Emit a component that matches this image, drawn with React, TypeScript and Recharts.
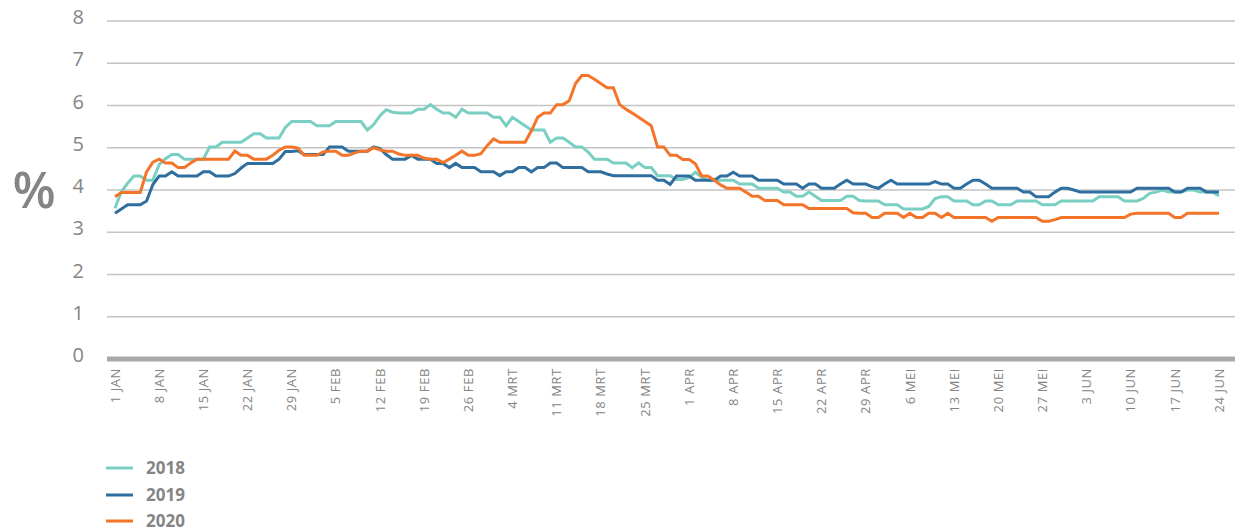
import React from 'react';
import { LineChart, Line, XAxis, YAxis, CartesianGrid, Legend, Label } from 'recharts';

// Month names (Dutch) and day counts for 2020 (leap year) — used for the category labels
const MONTHS = ['JAN', 'FEB', 'MRT', 'APR', 'MEI', 'JUN'];
const MONTH_DAYS = [31, 29, 31, 30, 31, 30];
const Y_TICKS = [0, 1, 2, 3, 4, 5, 6, 7, 8];
const SERIES_NAMES = ['2018', '2019', '2020'];

const s2018 = [
  3.57, 3.96, 4.16, 4.33, 4.33, 4.23, 4.23, 4.6, 4.74, 4.84,
  4.84, 4.73, 4.73, 4.73, 4.73, 5.02, 5.02, 5.13, 5.13, 5.13,
  5.13, 5.23, 5.33, 5.33, 5.23, 5.23, 5.23, 5.48, 5.62, 5.62,
  5.62, 5.62, 5.52, 5.52, 5.52, 5.62, 5.62, 5.62, 5.62, 5.62,
  5.42, 5.55, 5.76, 5.9, 5.84, 5.82, 5.82, 5.82, 5.91, 5.91,
  6.02, 5.91, 5.82, 5.82, 5.72, 5.91, 5.82, 5.82, 5.82, 5.82,
  5.72, 5.72, 5.52, 5.72, 5.62, 5.52, 5.42, 5.42, 5.42, 5.13,
  5.23, 5.23, 5.13, 5.02, 5.02, 4.9, 4.73, 4.73, 4.73, 4.64,
  4.64, 4.64, 4.53, 4.64, 4.53, 4.53, 4.34, 4.34, 4.34, 4.25,
  4.25, 4.3, 4.42, 4.3, 4.23, 4.23, 4.23, 4.23, 4.23, 4.14,
  4.14, 4.14, 4.04, 4.04, 4.04, 4.04, 3.95, 3.95, 3.85, 3.85,
  3.95, 3.85, 3.75, 3.75, 3.75, 3.75, 3.85, 3.85, 3.75, 3.74,
  3.74, 3.74, 3.65, 3.65, 3.65, 3.55, 3.55, 3.55, 3.55, 3.61,
  3.8, 3.84, 3.84, 3.74, 3.74, 3.74, 3.65, 3.65, 3.74, 3.74,
  3.65, 3.65, 3.65, 3.74, 3.74, 3.74, 3.74, 3.65, 3.65, 3.65,
  3.74, 3.74, 3.74, 3.74, 3.74, 3.74, 3.84, 3.84, 3.84, 3.84,
  3.74, 3.74, 3.74, 3.8, 3.92, 3.95, 4.0, 3.95, 3.95, 3.95,
  4.0, 4.0, 3.95, 3.95, 3.95, 3.86,
];

const s2019 = [
  3.45, 3.55, 3.65, 3.65, 3.65, 3.74, 4.13, 4.33, 4.33, 4.43,
  4.33, 4.33, 4.33, 4.33, 4.43, 4.43, 4.33, 4.33, 4.33, 4.39,
  4.52, 4.63, 4.63, 4.63, 4.63, 4.63, 4.73, 4.91, 4.91, 4.93,
  4.84, 4.84, 4.84, 4.84, 5.02, 5.02, 5.02, 4.92, 4.92, 4.92,
  4.92, 5.02, 4.98, 4.84, 4.73, 4.73, 4.73, 4.82, 4.73, 4.73,
  4.73, 4.63, 4.63, 4.53, 4.63, 4.53, 4.53, 4.53, 4.43, 4.43,
  4.43, 4.34, 4.43, 4.43, 4.53, 4.53, 4.43, 4.53, 4.53, 4.64,
  4.64, 4.53, 4.53, 4.53, 4.53, 4.43, 4.43, 4.43, 4.38, 4.34,
  4.34, 4.34, 4.34, 4.34, 4.34, 4.34, 4.23, 4.23, 4.13, 4.33,
  4.33, 4.33, 4.23, 4.23, 4.23, 4.23, 4.33, 4.33, 4.42, 4.33,
  4.33, 4.33, 4.23, 4.23, 4.23, 4.23, 4.14, 4.14, 4.14, 4.04,
  4.14, 4.14, 4.04, 4.04, 4.04, 4.14, 4.23, 4.14, 4.14, 4.14,
  4.08, 4.04, 4.14, 4.23, 4.14, 4.14, 4.14, 4.14, 4.14, 4.14,
  4.2, 4.14, 4.14, 4.04, 4.04, 4.14, 4.23, 4.23, 4.14, 4.04,
  4.04, 4.04, 4.04, 4.04, 3.95, 3.95, 3.84, 3.84, 3.84, 3.95,
  4.04, 4.04, 4.0, 3.95, 3.95, 3.95, 3.95, 3.95, 3.95, 3.95,
  3.95, 3.95, 4.04, 4.04, 4.04, 4.04, 4.04, 4.04, 3.95, 3.95,
  4.04, 4.04, 4.04, 3.95, 3.95, 3.95,
];

const s2020 = [
  3.84, 3.94, 3.94, 3.94, 3.94, 4.43, 4.66, 4.73, 4.64, 4.64,
  4.53, 4.53, 4.64, 4.73, 4.73, 4.73, 4.73, 4.73, 4.73, 4.92,
  4.82, 4.82, 4.73, 4.73, 4.73, 4.82, 4.94, 5.02, 5.02, 4.99,
  4.82, 4.82, 4.82, 4.9, 4.92, 4.92, 4.82, 4.82, 4.88, 4.92,
  4.92, 5.0, 4.95, 4.92, 4.92, 4.85, 4.82, 4.82, 4.82, 4.75,
  4.73, 4.73, 4.65, 4.73, 4.82, 4.92, 4.82, 4.82, 4.86, 5.05,
  5.21, 5.13, 5.13, 5.13, 5.13, 5.13, 5.4, 5.72, 5.82, 5.82,
  6.02, 6.02, 6.11, 6.52, 6.71, 6.71, 6.62, 6.52, 6.42, 6.42,
  6.02, 5.91, 5.82, 5.72, 5.62, 5.52, 5.02, 5.02, 4.82, 4.82,
  4.72, 4.72, 4.62, 4.33, 4.33, 4.23, 4.12, 4.04, 4.04, 4.04,
  3.95, 3.85, 3.85, 3.75, 3.75, 3.75, 3.65, 3.65, 3.65, 3.65,
  3.56, 3.56, 3.56, 3.56, 3.56, 3.56, 3.56, 3.46, 3.45, 3.45,
  3.35, 3.35, 3.45, 3.45, 3.45, 3.35, 3.45, 3.35, 3.35, 3.45,
  3.45, 3.35, 3.45, 3.35, 3.35, 3.35, 3.35, 3.35, 3.35, 3.26,
  3.35, 3.35, 3.35, 3.35, 3.35, 3.35, 3.35, 3.26, 3.26, 3.3,
  3.35, 3.35, 3.35, 3.35, 3.35, 3.35, 3.35, 3.35, 3.35, 3.35,
  3.35, 3.43, 3.45, 3.45, 3.45, 3.45, 3.45, 3.45, 3.35, 3.35,
  3.45, 3.45, 3.45, 3.45, 3.45, 3.45,
];

const COLORS: Record<string, string> = {
  '2018': '#79cfc1',
  '2019': '#2f6f9f',
  '2020': '#f4742a',
};

const dayLabels: string[] = [];
MONTHS.forEach((m, mi) => {
  for (let d = 1; d <= MONTH_DAYS[mi]; d++) dayLabels.push(`${d} ${m}`);
});

const data = s2018.map((_, i) => ({
  day: dayLabels[i],
  '2018': s2018[i],
  '2019': s2019[i],
  '2020': s2020[i],
}));

const TEXT = '#858585';
const FONT = '"Open Sans", "Noto Sans", sans-serif';

const XTick = (props: any) => {
  const { x, y, payload } = props;
  const ty = y + 1;
  return (
    <text
      x={x}
      y={ty}
      transform={`rotate(-90 ${x} ${ty})`}
      textAnchor="end"
      dy="0.36em"
      fontSize={13}
      letterSpacing={0.6}
      fontFamily={FONT}
      fill={TEXT}
    >
      {payload.value}
    </text>
  );
};

const YTick = (props: any) => {
  const { y, payload } = props;
  return (
    <text x={84} y={y} dy={3} textAnchor="end" fontSize={20} fontFamily={FONT} fill={TEXT}>
      {payload.value}
    </text>
  );
};

const LegendContent = () => (
  <div style={{ fontFamily: FONT }}>
    {SERIES_NAMES.map((n) => (
      <div key={n} style={{ display: 'flex', alignItems: 'center', height: 26.6 }}>
        <svg width={27} height={4} style={{ display: 'block' }}>
          <line x1={0} y1={2} x2={27} y2={2} stroke={COLORS[n]} strokeWidth={3} strokeLinecap="round" />
        </svg>
        <span style={{ marginLeft: 13, fontSize: 17, fontWeight: 700, color: TEXT, lineHeight: '20px' }}>{n}</span>
      </div>
    ))}
  </div>
);

export default function App() {
  return (
    <div style={{ position: 'absolute', left: 0, top: 0, width: 1235, height: 532, background: '#fff' }}>
      <LineChart width={1235} height={532} data={data} margin={{ top: 21, right: 0, bottom: 0, left: 0 }}>
        <CartesianGrid vertical={false} stroke="#c4c4c4" strokeWidth={1.5} />
        <XAxis
          dataKey="day"
          interval={6}
          tickLine={false}
          axisLine={{ stroke: '#a9a9a9', strokeWidth: 5 }}
          height={173}
          padding={{ left: 8, right: 16 }}
          tick={<XTick />}
        />
        <YAxis
          domain={[0, 8]}
          ticks={Y_TICKS}
          width={107}
          axisLine={false}
          tickLine={false}
          tick={<YTick />}
        >
          <Label
            content={() => (
              <text x={34} y={208} textAnchor="middle" fontSize={50} fontWeight={600} fontFamily={FONT} fill={TEXT}>
                %
              </text>
            )}
          />
        </YAxis>
        <Legend
          layout="vertical"
          align="center"
          verticalAlign="middle"
          content={<LegendContent />}
          wrapperStyle={{ left: 106, top: 455, width: 200, height: 80 }}
        />
        {SERIES_NAMES.map((n) => (
          <Line
            key={n}
            type="linear"
            dataKey={n}
            stroke={COLORS[n]}
            strokeWidth={3}
            dot={false}
            activeDot={false}
            isAnimationActive={false}
          />
        ))}
      </LineChart>
    </div>
  );
}
